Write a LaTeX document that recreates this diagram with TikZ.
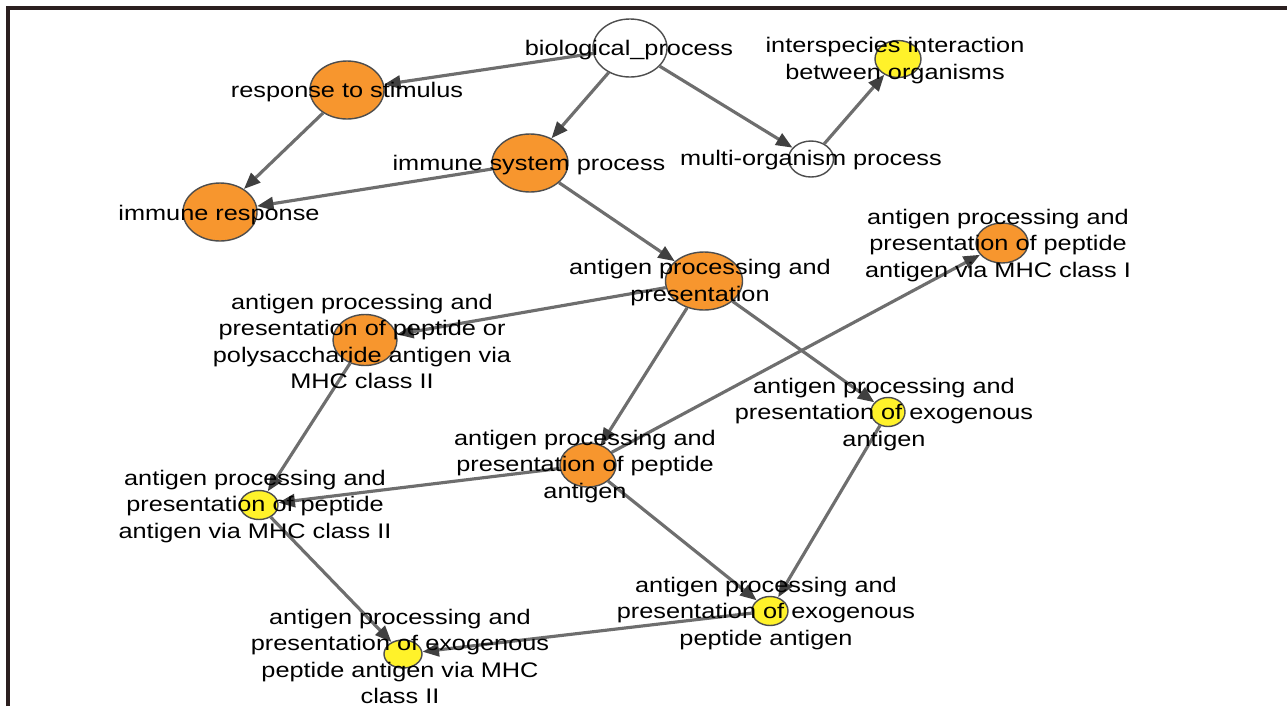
\documentclass[tikz,border=0pt]{standalone}
\usepackage{fontspec}
\setmainfont{Liberation Sans}[FakeStretch=1.2]
\usetikzlibrary{arrows.meta,shapes.geometric}
\definecolor{goorange}{HTML}{F7962E}
\definecolor{goyellow}{HTML}{FFF22A}
\definecolor{goborder}{HTML}{4D4D4D}
\definecolor{goedge}{HTML}{6E6E6E}
\definecolor{gotip}{HTML}{404040}
\definecolor{goframe}{HTML}{2B1F1F}
\tikzset{
  gonode/.style={ellipse, draw=goborder, line width=.8pt, inner sep=0pt},
  orangenode/.style={gonode, fill=goorange},
  yellownode/.style={gonode, fill=goyellow},
  whitenode/.style={gonode, fill=white},
  gosize/.style 2 args={minimum width=#1mm, minimum height=#2mm},
  golabel/.style={font=\fontsize{12}{15.1}\selectfont, text=black, align=center,
    inner sep=0pt, yshift=-.5mm},
  goarrow/.style={draw=goedge, line width=1.8pt,
    -{Triangle[length=3.3mm, width=2.6mm, color=gotip]}}
}

\begin{document}
\begin{tikzpicture}[x=0.2mm, y=-0.2mm]
  \useasboundingbox (0,0) rectangle (1287,706);
  \draw[goframe, line width=1.8pt] (8,706) -- (8,8) -- (1287,8);

  % GO terms
  \node[whitenode, gosize={14.8}{11.6}] (bio) at (630,48) {};
  \node[orangenode, gosize={14.8}{11.6}] (resp) at (347,90) {};
  \node[orangenode, gosize={15.2}{11.6}] (immsys) at (530,163) {};
  \node[orangenode, gosize={14.8}{11.6}] (immresp) at (220,212) {};
  \node[whitenode, gosize={9}{7.2}] (multi) at (811,159) {};
  \node[yellownode, gosize={9.2}{7.4}] (inter) at (898,59) {};
  \node[orangenode, gosize={15.4}{11.6}] (app) at (704,281) {};
  \node[orangenode, gosize={10.4}{8}] (mhcI) at (1002,243) {};
  \node[orangenode, gosize={12.8}{10.2}] (ppII) at (365,340) {};
  \node[yellownode, gosize={6.8}{5.8}] (exo) at (888,412) {};
  \node[orangenode, gosize={11.2}{8.8}] (pep) at (588,465) {};
  \node[yellownode, gosize={7.6}{5.8}] (pepII) at (259,505) {};
  \node[yellownode, gosize={7.2}{5.8}] (exopep) at (770,611) {};
  \node[yellownode, gosize={7.6}{5.6}] (exopepII) at (403,654) {};

  % is_a links
  \foreach \a/\b in {bio/resp, bio/immsys, bio/multi, multi/inter, resp/immresp,
      immsys/immresp, immsys/app, app/ppII, app/pep, app/exo, pep/mhcI,
      pep/pepII, ppII/pepII, pep/exopep, exo/exopep, pepII/exopepII,
      exopep/exopepII} {
    \draw[goarrow] (\a) -- (\b);
  }

  % labels
  \node[golabel] (bio-l) at (629,48) {biological\_process};
  \node[golabel] (resp-l) at (347,90) {response to stimulus};
  \node[golabel] (immsys-l) at (529,163) {immune system process};
  \node[golabel] (immresp-l) at (219,213) {immune response};
  \node[golabel] (multi-l) at (811,158) {multi-organism process};
  \node[golabel] (inter-l) at (895,58) {interspecies interaction\\between organisms};
  \node[golabel] (app-l) at (700,280) {antigen processing and\\presentation};
  \node[golabel] (mhcI-l) at (998,243)
    {antigen processing and\\presentation of peptide\\antigen via MHC class I};
  \node[golabel] (ppII-l) at (362,339)
    {antigen processing and\\presentation of peptide or\\polysaccharide antigen via\\MHC class II};
  \node[golabel] (exo-l) at (884,412)
    {antigen processing and\\presentation of exogenous\\antigen};
  \node[golabel] (pep-l) at (585,464)
    {antigen processing and\\presentation of peptide\\antigen};
  \node[golabel] (pepII-l) at (255,504)
    {antigen processing and\\presentation of peptide\\antigen via MHC class II};
  \node[golabel] (exopep-l) at (766,611)
    {antigen processing and\\presentation of exogenous\\peptide antigen};
  \node[golabel] (exopepII-l) at (400,654)
    {antigen processing and\\presentation of exogenous\\peptide antigen via MHC\\class II};
\end{tikzpicture}
\end{document}
